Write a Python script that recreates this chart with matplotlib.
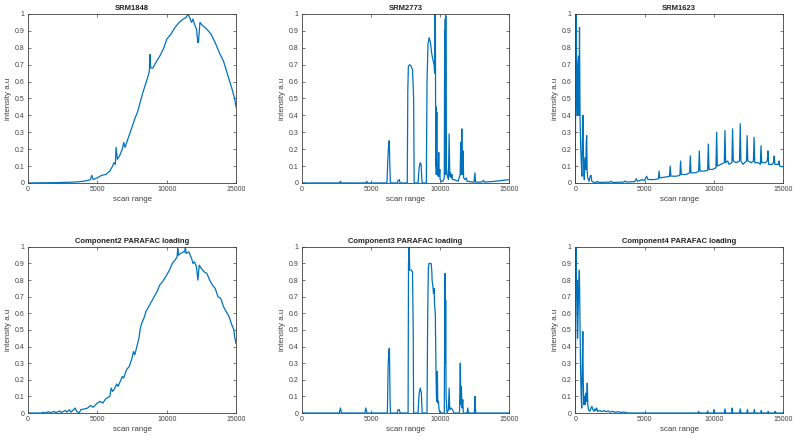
import matplotlib
matplotlib.use('Agg')
import matplotlib.pyplot as plt

plt.rcParams['font.family'] = ['Liberation Sans', 'DejaVu Sans']

# (scan position, intensity)
srm1848 = [(0, 0), (1000, 0.001), (2000, 0.002), (3000, 0.004), (3500, 0.006), (4000, 0.01),
           (4300, 0.015), (4500, 0.02), (4600, 0.045), (4700, 0.02), (5000, 0.03), (5300, 0.045),
           (5600, 0.05), (5900, 0.07), (6100, 0.1), (6200, 0.12), (6300, 0.11), (6350, 0.21),
           (6450, 0.14), (6600, 0.16), (6800, 0.2), (6900, 0.24), (7000, 0.21), (7200, 0.26),
           (7500, 0.33), (7700, 0.38), (7900, 0.42), (8100, 0.48), (8300, 0.54), (8500, 0.59),
           (8650, 0.63), (8750, 0.66), (8800, 0.76), (8850, 0.68), (9000, 0.68), (9200, 0.71),
           (9500, 0.75), (9800, 0.8), (10000, 0.85), (10300, 0.88), (10600, 0.92), (10900, 0.95),
           (11200, 0.97), (11400, 0.98), (11550, 1.0), (11700, 0.97), (11800, 0.95), (11900, 0.97),
           (12000, 0.94), (12150, 0.91), (12250, 0.83), (12300, 0.84), (12400, 0.95), (12600, 0.93),
           (12900, 0.91), (13200, 0.88), (13500, 0.83), (13800, 0.77), (14100, 0.72), (14400, 0.64),
           (14700, 0.56), (14900, 0.5), (15000, 0.45)]

srm2773 = [(0, 0), (2700, 0), (2780, 0.01), (2860, 0), (4600, 0), (4680, 0.01), (4760, 0),
           (6150, 0), (6220, 0.15), (6280, 0.24), (6320, 0.25), (6360, 0.1), (6400, 0),
           (6900, 0), (6960, 0.015), (7040, 0.02), (7100, 0), (7620, 0), (7660, 0.55),
           (7700, 0.69), (7800, 0.7), (7900, 0.69), (8000, 0.67), (8080, 0.5), (8120, 0),
           (8400, 0), (8480, 0.09), (8550, 0.12), (8620, 0.11), (8680, 0.02), (8700, 0),
           (9000, 0), (9050, 0.6), (9120, 0.82), (9200, 0.86), (9300, 0.83), (9400, 0.76),
           (9500, 0.72), (9560, 0.7), (9600, 0.65), (9630, 1.0), (9660, 0.9), (9680, 0.1),
           (9700, 0.45), (9720, 0.05), (9760, 0.42), (9790, 0.05), (9830, 0.12), (9860, 0.04),
           (9900, 0.18), (9930, 0.04), (9980, 0.08), (10000, 0.02), (10100, 0.01), (10200, 0.01),
           (10300, 0.03), (10330, 0.9), (10350, 0.1), (10370, 0.97), (10390, 0.05), (10410, 0.99),
           (10430, 0.3), (10450, 0.1), (10500, 0.05), (10600, 0.02), (10650, 0.29), (10700, 0.04),
           (10750, 0.06), (10800, 0.03), (10850, 0.05), (10900, 0.02), (11000, 0.02), (11300, 0.01),
           (11450, 0.05), (11490, 0.24), (11530, 0.05), (11570, 0.32), (11610, 0.05), (11660, 0.19),
           (11700, 0.03), (11800, 0.02), (11900, 0.03), (11950, 0.01), (12450, 0.005), (12520, 0.06),
           (12560, 0.005), (13000, 0.005), (13150, 0.015), (13200, 0.005), (14000, 0.01), (15000, 0.02)]

srm1623 = [(0, 0), (30, 0.5), (70, 1.0), (110, 0.55), (150, 0.4), (190, 0.7), (240, 0.75),
           (270, 0.4), (310, 0.92), (350, 0.38), (400, 0.2), (450, 0.1), (480, 0.04), (530, 0.3),
           (560, 0.4), (590, 0.2), (620, 0.05), (660, 0.02), (700, 0.12), (730, 0.15), (760, 0.08),
           (800, 0.25), (830, 0.28), (860, 0.08), (900, 0.03), (1000, 0.01), (1080, 0.04),
           (1140, 0.045), (1200, 0.01), (1300, 0.005), (1500, 0.003), (1600, 0.01), (1700, 0.003),
           (2500, 0.005), (2600, 0.01), (2700, 0.003), (3500, 0.005), (3600, 0.012), (3700, 0.005),
           (4300, 0.008), (4400, 0.025), (4500, 0.01), (4700, 0.015), (4800, 0.02), (5000, 0.015),
           (5150, 0.04), (5250, 0.02), (5700, 0.02), (6000, 0.025), (6050, 0.07), (6100, 0.03),
           (6500, 0.035), (6800, 0.04), (6850, 0.1), (6900, 0.04), (7300, 0.04), (7550, 0.045),
           (7600, 0.13), (7650, 0.05), (8000, 0.05), (8250, 0.06), (8300, 0.16), (8350, 0.06),
           (8700, 0.06), (8900, 0.07), (8950, 0.19), (9000, 0.07), (9300, 0.07), (9550, 0.075),
           (9600, 0.23), (9650, 0.08), (9900, 0.08), (10150, 0.09), (10200, 0.3), (10250, 0.1),
           (10500, 0.11), (10750, 0.12), (10800, 0.31), (10850, 0.12), (11000, 0.13), (11100, 0.11),
           (11300, 0.12), (11350, 0.32), (11400, 0.13), (11600, 0.12), (11850, 0.13), (11900, 0.35),
           (11950, 0.13), (12100, 0.11), (12350, 0.13), (12400, 0.28), (12450, 0.13), (12700, 0.12),
           (12850, 0.13), (12900, 0.27), (12950, 0.12), (13200, 0.12), (13350, 0.11), (13400, 0.22),
           (13450, 0.12), (13700, 0.12), (13850, 0.13), (13900, 0.19), (13950, 0.11), (14200, 0.11),
           (14300, 0.12), (14350, 0.16), (14400, 0.11), (14650, 0.11), (14700, 0.13), (14750, 0.1),
           (15000, 0.095)]

comp2 = [(0, 0), (1000, 0), (1100, 0.005), (1200, 0), (1500, 0.008), (1600, 0), (1900, 0.01),
         (2000, 0.002), (2300, 0.012), (2400, 0.003), (2700, 0.015), (2800, 0.005), (3000, 0.02),
         (3100, 0.005), (3400, 0.03), (3500, 0.01), (3700, 0.0), (3800, 0.02), (4100, 0.025),
         (4300, 0.03), (4500, 0.045), (4700, 0.035), (5000, 0.06), (5200, 0.07), (5400, 0.06),
         (5600, 0.085), (5900, 0.1), (6000, 0.15), (6100, 0.13), (6200, 0.14), (6400, 0.175),
         (6500, 0.16), (6800, 0.22), (6900, 0.21), (7100, 0.26), (7300, 0.28), (7500, 0.33),
         (7600, 0.37), (7700, 0.35), (8000, 0.45), (8100, 0.51), (8200, 0.54), (8400, 0.58),
         (8500, 0.61), (8700, 0.64), (8900, 0.67), (9100, 0.7), (9300, 0.73), (9500, 0.77),
         (9700, 0.79), (10000, 0.83), (10200, 0.86), (10400, 0.9), (10600, 0.92), (10750, 0.94),
         (10800, 0.99), (10850, 0.95), (11000, 0.96), (11200, 0.97), (11300, 0.97), (11350, 1.0),
         (11400, 0.96), (11600, 0.97), (11800, 0.93), (11900, 0.9), (12000, 0.91), (12150, 0.88),
         (12250, 0.8), (12350, 0.89), (12500, 0.87), (12700, 0.85), (12900, 0.84), (13100, 0.8),
         (13300, 0.77), (13500, 0.75), (13700, 0.7), (13900, 0.69), (14100, 0.64), (14300, 0.61),
         (14500, 0.58), (14700, 0.53), (14850, 0.5), (14900, 0.46), (15000, 0.42)]

comp3 = [(0, 0), (2700, 0), (2780, 0.03), (2860, 0), (4550, 0), (4620, 0.03), (4700, 0),
         (6180, 0), (6240, 0.3), (6290, 0.38), (6330, 0.39), (6370, 0.1), (6400, 0), (6900, 0),
         (6950, 0.02), (7050, 0.02), (7100, 0), (7680, 0), (7710, 0.9), (7750, 1.0), (7800, 0.86),
         (7900, 0.86), (8000, 0.85), (8050, 0.5), (8080, 0), (8400, 0), (8480, 0.12), (8560, 0.15),
         (8640, 0.12), (8700, 0), (9050, 0), (9100, 0.6), (9150, 0.88), (9200, 0.9), (9350, 0.9),
         (9400, 0.85), (9420, 0.8), (9480, 0.76), (9520, 0.72), (9560, 0.75), (9600, 0.65),
         (9650, 0.6), (9700, 0.25), (9730, 0.1), (9760, 0.07), (9800, 0.25), (9830, 0.06),
         (9880, 0.07), (9920, 0.02), (10000, 0), (10300, 0), (10330, 0.5), (10350, 0.84),
         (10380, 0.3), (10400, 0.68), (10430, 0.1), (10500, 0.0), (10600, 0.02), (10650, 0.15),
         (10700, 0.02), (10800, 0.03), (10900, 0.02), (11000, 0.0), (11400, 0), (11460, 0.3),
         (11500, 0.05), (11540, 0.16), (11580, 0.03), (11640, 0.08), (11680, 0), (11950, 0),
         (12000, 0.03), (12050, 0), (12480, 0), (12530, 0.1), (12570, 0), (15000, 0)]

comp4 = [(0, 0), (40, 0.6), (70, 1.0), (100, 0.7), (130, 0.8), (170, 0.45), (210, 0.6),
         (250, 0.75), (300, 0.86), (340, 0.6), (380, 0.3), (430, 0.1), (470, 0.03), (510, 0.3),
         (550, 0.49), (580, 0.2), (620, 0.05), (660, 0.1), (700, 0.05), (740, 0.08), (790, 0.12),
         (830, 0.07), (870, 0.18), (910, 0.05), (960, 0.02), (1050, 0.01), (1150, 0.03),
         (1200, 0.04), (1280, 0.02), (1350, 0.01), (1430, 0.025), (1500, 0.015), (1550, 0.03),
         (1620, 0.01), (1800, 0.015), (1900, 0.008), (2100, 0.015), (2200, 0.008), (2400, 0.012),
         (2500, 0.005), (2700, 0.01), (2900, 0.004), (3100, 0.008), (3300, 0.003), (3500, 0.006),
         (3700, 0.001), (4000, 0), (8850, 0), (8900, 0.01), (8950, 0), (9500, 0), (9550, 0.012),
         (9600, 0), (9980, 0), (10020, 0.02), (10060, 0), (10750, 0), (10800, 0.025), (10850, 0),
         (11280, 0), (11320, 0.03), (11360, 0), (11850, 0), (11900, 0.025), (11950, 0),
         (12380, 0), (12420, 0.02), (12460, 0), (12880, 0), (12920, 0.02), (12960, 0),
         (13380, 0), (13420, 0.015), (13460, 0), (13880, 0), (13920, 0.01), (13960, 0),
         (14380, 0), (14420, 0.01), (14460, 0), (15000, 0)]

titles = ['SRM1848', 'SRM2773', 'SRM1623',
          'Component2 PARAFAC loading', 'Component3 PARAFAC loading', 'Component4 PARAFAC loading']
series = [srm1848, srm2773, srm1623, comp2, comp3, comp4]

x_ticks = [0, 5000, 10000, 15000]
y_ticks = [0, 0.1, 0.2, 0.3, 0.4, 0.5, 0.6, 0.7, 0.8, 0.9, 1]
y_ticklabels = ['0', '0.1', '0.2', '0.3', '0.4', '0.5', '0.6', '0.7', '0.8', '0.9', '1']

# axes boxes in figure fractions (left, bottom, width, height)
boxes = [(0.035, 0.587, 0.26, 0.3815), (0.3775, 0.587, 0.259, 0.3815), (0.719, 0.587, 0.26, 0.3815),
         (0.035, 0.0677, 0.26, 0.375), (0.3775, 0.0677, 0.259, 0.375), (0.719, 0.0677, 0.26, 0.375)]

line_color = (0.0, 0.447, 0.741)
axis_color = (0.25, 0.25, 0.25)

fig = plt.figure(figsize=(8, 4.43), dpi=100)

for box, data, title in zip(boxes, series, titles):
    ax = fig.add_axes(box)
    xs = [p[0] for p in data]
    ys = [p[1] for p in data]
    ax.plot(xs, ys, color=line_color, lw=0.9)
    ax.set_xlim(0, 15000)
    ax.set_ylim(0, 1)
    ax.set_xticks(x_ticks)
    ax.set_xticklabels([str(t) for t in x_ticks])
    ax.set_yticks(y_ticks)
    ax.set_yticklabels(y_ticklabels)
    ax.tick_params(direction='in', length=2.5, width=0.5, labelsize=5.0, colors=axis_color,
                   top=True, right=True, pad=2.5)
    for sp in ax.spines.values():
        sp.set_color(axis_color)
        sp.set_linewidth(0.6)
    ax.set_title(title, fontsize=5.5, fontweight='bold', color='#222222', pad=3)
    ax.set_xlabel('scan range', fontsize=5.7, color=axis_color, labelpad=2)
    ax.set_ylabel('intensity a.u', fontsize=5.7, color=axis_color, labelpad=2)

fig.savefig('out.png', dpi=100)
